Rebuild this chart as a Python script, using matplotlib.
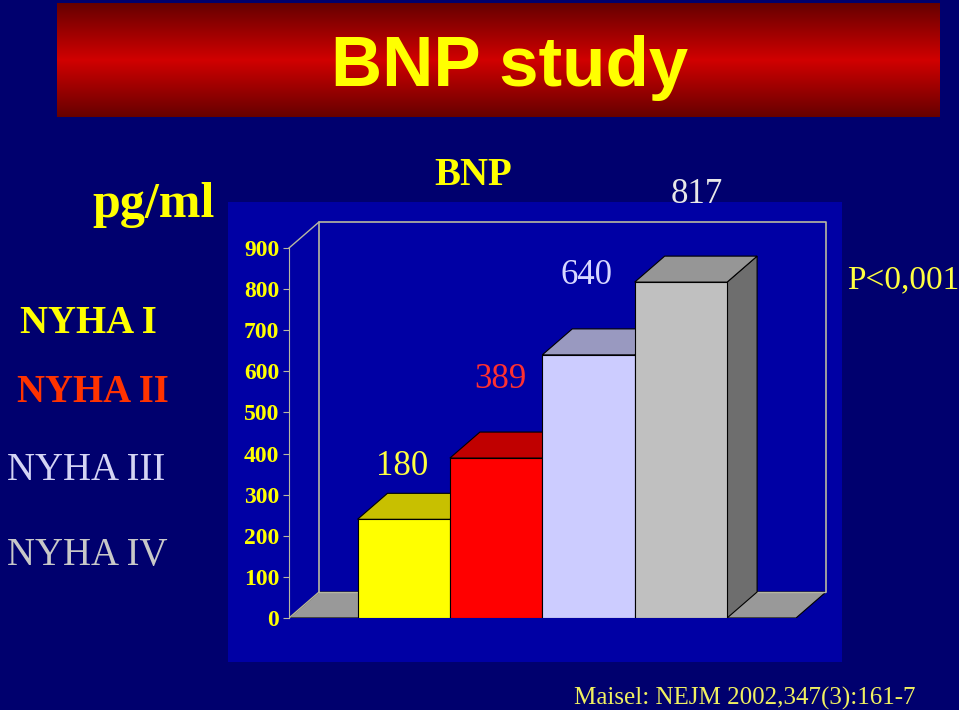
import matplotlib.pyplot as plt
import numpy as np
from matplotlib.patches import Polygon

# data
categories = ['NYHA I', 'NYHA II', 'NYHA III', 'NYHA IV']
bar_values = [240, 389, 640, 817]          # bar heights as drawn on the slide
value_labels = ['180', '389', '640', '817']  # text boxes typed on the slide
yticks = [0, 100, 200, 300, 400, 500, 600, 700, 800, 900]

# styles
front_colors = ['#ffff00', '#ff0000', '#ccccff', '#c0c0c0']
top_colors = ['#c8c000', '#c00000', '#9999c0', '#969696']
side_colors = ['#8c8c00', '#8c0000', '#7070a0', '#6e6e6e']
cat_colors = ['#ffff00', '#ff3300', '#d4d4f4', '#c8c8c8']
cat_weights = ['bold', 'bold', 'normal', 'normal']
label_colors = ['#ffff40', '#ff3030', '#d8d8ff', '#e8e8e8']

BG = '#00006e'
PLOT_BG = '#0000a4'
WALL = '#b8b8a0'
SERIF = 'Liberation Serif'

W, H = 959, 710


def fx(px):
    return px / W


def fy(py):
    return 1 - py / H


fig = plt.figure(figsize=(W / 100, H / 100), dpi=100, facecolor=BG)

# title banner with vertical red gradient
bax = fig.add_axes([fx(57), fy(117), (940 - 57) / W, (117 - 3) / H])
t = np.linspace(0, 1, 200)
g = 1 - np.abs(t - 0.5) * 2
r = 0.40 + 0.42 * g
grad = np.zeros((200, 2, 3))
grad[:, :, 0] = r[:, None]
bax.imshow(grad, aspect='auto', extent=(0, 1, 0, 1))
bax.set_axis_off()
fig.text(fx(510), fy(86), 'BNP study', color='#ffff00', fontsize=51,
         fontweight='bold', family='Liberation Sans', ha='center', va='baseline')

# plot area background (its own axes, drawn under the chart)
pax = fig.add_axes([fx(228), fy(662), (842 - 228) / W, (662 - 202) / H], zorder=-1)
pax.set_facecolor(PLOT_BG)
pax.set_xticks([])
pax.set_yticks([])
for s in pax.spines.values():
    s.set_visible(False)

# chart axes (front axis at px 289, wall top at px 222)
ax_l, ax_r, ax_b, ax_t = 289, 826, 618, 222
bar_left_px, bar_w_px = 357.5, 92.4
ppu = (618 - 248) / 900.0
ax = fig.add_axes([fx(ax_l), fy(ax_b), (ax_r - ax_l) / W, (ax_b - ax_t) / H])
ax.patch.set_visible(False)
xlim = ((ax_l - bar_left_px) / bar_w_px, (ax_r - bar_left_px) / bar_w_px)
ylim = (0, (ax_b - ax_t) / ppu)
ax.set_xlim(xlim)
ax.set_ylim(ylim)
DX = 30 / bar_w_px
DY = 26 / ppu

# floor
fl, fr = xlim[0], xlim[1] - DX
ax.add_patch(Polygon([(fl, 0), (fr, 0), (fr + DX, DY), (fl + DX, DY)], closed=True,
                     facecolor='#999999', edgecolor='black', lw=0.8, zorder=1))
# walls
ax.plot([fl + DX, xlim[1]], [DY, DY], color=WALL, lw=1, zorder=2)
ax.plot([fl, fl + DX], [0, DY], color=WALL, lw=1, zorder=2)
ax.plot([fl, fl + DX], [900, ylim[1]], color=WALL, lw=1, zorder=2, clip_on=False)
ax.plot([fl + DX, fl + DX, xlim[1], xlim[1]], [DY, ylim[1], ylim[1], DY],
        color=WALL, lw=1.2, zorder=2, clip_on=False)

# bars, left to right
for i, h in enumerate(bar_values):
    z = 3 + 3 * i
    x = i
    ax.add_patch(Polygon([(x + 1, 0), (x + 1 + DX, DY), (x + 1 + DX, h + DY), (x + 1, h)],
                         closed=True, facecolor=side_colors[i], edgecolor='black', lw=0.8, zorder=z))
    ax.add_patch(Polygon([(x, h), (x + 1, h), (x + 1 + DX, h + DY), (x + DX, h + DY)],
                         closed=True, facecolor=top_colors[i], edgecolor='black', lw=0.8, zorder=z + 1))
    ax.bar(x, h, width=1, align='edge', color=front_colors[i], edgecolor='black',
           linewidth=0.8, zorder=z + 2)

for s in ['top', 'right', 'bottom']:
    ax.spines[s].set_visible(False)
ax.spines['left'].set_bounds(0, 900)
ax.spines['left'].set_color(WALL)
ax.set_xticks([])
ax.set_yticks(yticks)
ax.set_yticklabels([str(v) for v in yticks], fontsize=17, fontweight='bold',
                   family=SERIF, color='#ffff00')
ax.tick_params(axis='y', direction='out', length=4, color=WALL, pad=3)

# value labels (slide text boxes)
label_pos = [(402, 475), (500, 388), (586, 284), (697, 203)]
for (px, py), txt, c in zip(label_pos, value_labels, label_colors):
    fig.text(fx(px), fy(py), txt, color=c, fontsize=25, family=SERIF,
             ha='center', va='baseline')

# left legend text
fig.text(fx(215), fy(217), 'pg/ml', color='#ffff00', fontsize=36, family=SERIF,
         fontweight='bold', ha='right', va='baseline')
cat_pos = [(20, 333), (17, 402), (7, 480), (7, 565)]
for (px, py), name, c, w in zip(cat_pos, categories, cat_colors, cat_weights):
    fig.text(fx(px), fy(py), name, color=c, fontsize=28, family=SERIF,
             fontweight=w, ha='left', va='baseline')

fig.text(fx(473), fy(185), 'BNP', color='#ffff00', fontsize=28, family=SERIF,
         fontweight='bold', ha='center', va='baseline')
fig.text(fx(847), fy(288), 'P<0,001', color='#ffff40', fontsize=24, family=SERIF,
         ha='left', va='baseline')
fig.text(fx(745), fy(705), 'Maisel: NEJM 2002,347(3):161-7', color='#f0f060',
         fontsize=18, family=SERIF, ha='center', va='baseline')

fig.savefig('out.png', dpi=100, facecolor=BG)
